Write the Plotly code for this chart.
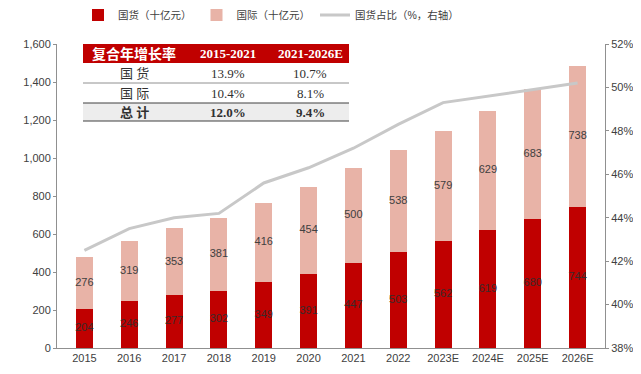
import plotly.graph_objects as go

years = ["2015", "2016", "2017", "2018", "2019", "2020", "2021", "2022", "2023E", "2024E", "2025E", "2026E"]
domestic = [204, 246, 277, 302, 349, 391, 447, 503, 562, 619, 680, 744]
international = [276, 319, 353, 381, 416, 454, 500, 538, 579, 629, 683, 738]
domestic_share = [42.5, 43.5, 44.0, 44.2, 45.6, 46.3, 47.2, 48.3, 49.3, 49.6, 49.9, 50.2]

table_header = ["复合年增长率", "2015-2021", "2021-2026E"]
table_rows = [
    ["国 货", "13.9%", "10.7%"],
    ["国 际", "10.4%", "8.1%"],
    ["总 计", "12.0%", "9.4%"],
]

RED = "#C00000"
PINK = "#E8B3A7"
GREY = "#C8C8C8"
TXT = "#404040"
CJK = "Arial, 'Noto Sans CJK SC', sans-serif"
SERIF = "'Liberation Serif', 'Noto Sans CJK SC', serif"

fig = go.Figure()
fig.add_trace(go.Bar(x=years, y=domestic, name="国货（十亿元）", marker_color=RED,
                     marker_line_width=0, textposition="none"))
fig.add_trace(go.Bar(x=years, y=international, name="国际（十亿元）", marker_color=PINK,
                     marker_line_width=0, textposition="none"))
fig.add_trace(go.Scatter(x=years, y=domestic_share, name="国货占比（%，右轴）", yaxis="y2",
                         mode="lines", line=dict(color=GREY, width=3)))

# value labels at segment centres
fig.add_trace(go.Scatter(x=years, y=[d / 2 for d in domestic], mode="text",
                         text=[str(v) for v in domestic], showlegend=False,
                         textfont=dict(size=11, color="#3a2a2a", family="Arial"), hoverinfo="skip"))
fig.add_trace(go.Scatter(x=years, y=[d + i / 2 for d, i in zip(domestic, international)], mode="text",
                         text=[str(v) for v in international], showlegend=False,
                         textfont=dict(size=11, color=TXT, family="Arial"), hoverinfo="skip"))

# the page has an 8px body margin; work in screenshot pixels and subtract it
OFF = 8
W, H = 641 - OFF, 374 - OFF
PL, PR, PT, PB = 57, 605, 44, 348  # plot area in screenshot pixels
L, T = PL - OFF, PT - OFF
R = W - (PR - OFF)
B = H - (PB - OFF)
pw, ph = PR - PL, PB - PT

def px(x):
    return (x - PL) / pw

def py(y):
    return (PB - y) / ph

shapes = []
annots = []
tx = [83, 185, 271, 349]
ty = [44, 63, 83, 103, 121]
shapes.append(dict(type="rect", xref="paper", yref="paper", x0=px(tx[0]), x1=px(tx[3]),
                   y0=py(ty[1]), y1=py(ty[0]), fillcolor=RED, line_width=0, layer="above"))
shapes.append(dict(type="rect", xref="paper", yref="paper", x0=px(tx[0]), x1=px(tx[3]),
                   y0=py(ty[4]), y1=py(ty[3]), fillcolor="#EDEDED", line_width=0, layer="above"))
shapes.append(dict(type="rect", xref="paper", yref="paper", x0=px(tx[0]), x1=px(tx[3]),
                   y0=py(ty[3]), y1=py(ty[1]), fillcolor="white", line_width=0, layer="above"))
for yy, col, wd in [(ty[2], "#909090", 1), (ty[3], "#404040", 1.2), (ty[4], "#404040", 1.2)]:
    shapes.append(dict(type="line", xref="paper", yref="paper", x0=px(tx[0]), x1=px(tx[3]),
                       y0=py(yy), y1=py(yy), line=dict(color=col, width=wd), layer="above"))

for c in range(3):
    cx = px((tx[c] + tx[c + 1]) / 2)
    annots.append(dict(xref="paper", yref="paper", x=cx, y=py((ty[0] + ty[1]) / 2),
                       xanchor="center", yanchor="middle",
                       text="<b>%s</b>" % table_header[c], showarrow=False,
                       font=dict(size=14 if c == 0 else 13, color="white", family=SERIF)))
    for r in range(3):
        t = table_rows[r][c]
        if r == 2:
            t = "<b>%s</b>" % t
        annots.append(dict(xref="paper", yref="paper", x=cx, y=py((ty[r + 1] + ty[r + 2]) / 2),
                           xanchor="center", yanchor="middle",
                           text=t, showarrow=False,
                           font=dict(size=13, color="#303030", family=SERIF)))

fig.update_layout(
    width=W, height=H,
    margin=dict(l=L, r=R, t=T, b=B, autoexpand=False),
    barmode="stack", bargap=0.62,
    plot_bgcolor="white", paper_bgcolor="white",
    font=dict(family=CJK, size=11, color=TXT),
    showlegend=True,
    legend=dict(orientation="h", x=px(78), xanchor="left", y=py(15), yanchor="middle",
                font=dict(size=10.5, color=TXT, family=CJK), itemwidth=30, traceorder="normal",
                bgcolor="rgba(0,0,0,0)"),
    xaxis=dict(showline=True, linecolor="#909090", linewidth=1, ticks="", showgrid=False,
               tickfont=dict(size=11, color=TXT, family="Arial")),
    yaxis=dict(range=[0, 1600], dtick=200, tickformat=",", showline=True, linecolor="#909090",
               ticks="outside", ticklen=3, tickcolor="#909090", showgrid=False, zeroline=False,
               tickfont=dict(size=11, color=TXT, family="Arial")),
    yaxis2=dict(range=[38, 52], dtick=2, ticksuffix="%", overlaying="y", side="right",
                showline=True, linecolor="#909090", ticks="outside", ticklen=3, tickcolor="#909090",
                showgrid=False, zeroline=False, tickfont=dict(size=11, color=TXT, family="Arial")),
    shapes=shapes, annotations=annots,
)

fig.write_html("out.html")
